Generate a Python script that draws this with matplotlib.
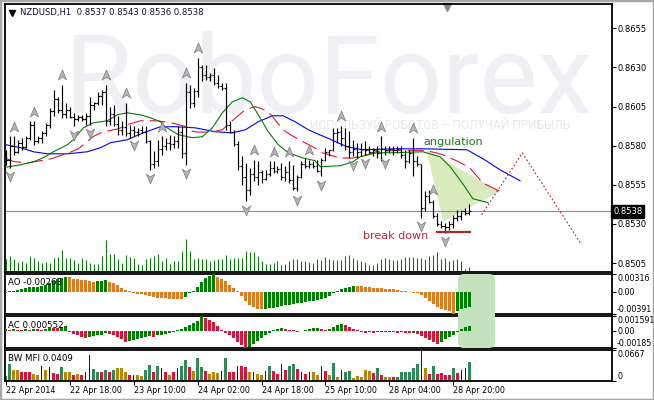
import numpy as np
import matplotlib.pyplot as plt
import matplotlib.transforms as mtransforms
from matplotlib.path import Path
from matplotlib.patches import Polygon, Rectangle, FancyBboxPatch

#OHLC bars (H1), bar index 0 = 22 Apr 2014
highs=[0.85774,0.85859,0.85859,0.85838,0.85849,0.85859,0.85955,0.85955,0.85859,0.85891,
       0.85944,0.86040,0.86157,0.86114,0.86189,0.86072,0.86050,0.86008,0.85997,0.85997,
       0.86008,0.86114,0.86082,0.86146,0.86157,0.86189,0.86050,0.86061,0.85987,0.85955,
       0.86072,0.85933,0.85923,0.85912,0.85923,0.85923,0.85838,0.85763,0.85838,0.85859,
       0.85849,0.85870,0.85859,0.85923,0.85923,0.86199,0.86189,0.86168,0.86359,0.86316,
       0.86316,0.86263,0.86295,0.86252,0.86199,0.86199,0.85955,0.85902,0.85827,0.85731,
       0.85689,0.85657,0.85710,0.85699,0.85646,0.85646,0.85699,0.85699,0.85667,0.85689,
       0.85667,0.85699,0.85678,0.85614,0.85699,0.85721,0.85710,0.85699,0.85710,0.85721,
       0.85785,0.85774,0.85912,0.85915,0.85925,0.85912,0.85891,0.85838,0.85817,0.85817,
       0.85827,0.85795,0.85785,0.85795,0.85859,0.85795,0.85795,0.85795,0.85795,0.85795,
       0.85774,0.85774,0.85849,0.85731,0.85685,0.85508,0.85519,0.85455,0.85370,0.85316,
       0.85306,0.85316,0.85359,0.85391,0.85391,0.85402,0.85430]
lows=[0.85678,0.85657,0.85742,0.85753,0.85774,0.85785,0.85838,0.85806,0.85817,0.85817,
      0.85859,0.85912,0.85987,0.86008,0.85976,0.85976,0.85976,0.85923,0.85955,0.85955,
      0.85933,0.85933,0.86029,0.86061,0.86061,0.85923,0.85933,0.85923,0.85870,0.85870,
      0.85859,0.85849,0.85859,0.85859,0.85880,0.85817,0.85646,0.85657,0.85668,0.85742,
      0.85774,0.85774,0.85785,0.85785,0.85721,0.85678,0.86040,0.86050,0.86114,0.86210,
      0.86221,0.86210,0.86189,0.86168,0.86157,0.85902,0.85880,0.85795,0.85646,0.85550,
      0.85444,0.85487,0.85572,0.85550,0.85561,0.85583,0.85604,0.85625,0.85625,0.85583,
      0.85572,0.85561,0.85519,0.85508,0.85593,0.85657,0.85657,0.85657,0.85635,0.85604,
      0.85699,0.85731,0.85763,0.85817,0.85795,0.85774,0.85721,0.85731,0.85721,0.85731,
      0.85742,0.85753,0.85731,0.85721,0.85699,0.85742,0.85753,0.85742,0.85753,0.85721,
      0.85657,0.85689,0.85604,0.85667,0.85338,0.85380,0.85434,0.85338,0.85285,0.85274,
      0.85242,0.85264,0.85274,0.85316,0.85327,0.85359,0.85360]
closes=[0.8571,0.8580,0.8576,0.8582,0.8579,0.8585,0.8593,0.8583,0.8585,0.8588,
        0.8593,0.8602,0.8610,0.8603,0.8600,0.8603,0.8598,0.8597,0.8598,0.8597,
        0.8599,0.8606,0.8607,0.8612,0.8614,0.8596,0.8600,0.8594,0.8590,0.8592,
        0.8588,0.8590,0.8589,0.8590,0.8589,0.8583,0.8568,0.8570,0.8578,0.8580,
        0.8582,0.8581,0.8583,0.8589,0.8575,0.8614,0.8607,0.8615,0.8630,0.8625,
        0.8624,0.8625,0.8620,0.8618,0.8617,0.8593,0.8589,0.8581,0.8567,0.8560,
        0.8552,0.8562,0.8560,0.8563,0.8559,0.8562,0.8566,0.8564,0.8565,0.8560,
        0.8563,0.8558,0.8553,0.8560,0.8568,0.8567,0.8568,0.8567,0.8564,0.8571,
        0.8576,0.8577,0.8588,0.8589,0.8585,0.8580,0.8576,0.8578,0.8576,0.8578,
        0.8577,0.8576,0.8577,0.8575,0.8578,0.8577,0.8578,0.8577,0.8578,0.8574,
        0.8570,0.8575,0.8570,0.8568,0.8540,0.8548,0.8544,0.8535,0.8530,0.8529,
        0.8528,0.8530,0.8534,0.8535,0.8538,0.8537,0.8538]
first_open=0.8575
volumes=[380,480,380,310,330,280,480,430,330,280,300,280,420,450,660,420,420,360,280,420,
         350,260,240,240,480,960,540,540,380,280,500,440,420,230,200,400,430,480,540,340,
         410,240,340,340,630,990,620,400,410,400,380,340,360,380,400,500,380,430,420,420,
         630,600,600,480,340,240,240,280,320,220,240,340,380,380,340,340,300,260,380,360,
         440,380,360,360,360,480,500,420,360,320,300,200,220,260,380,420,400,360,360,380,
         440,460,440,430,420,380,480,520,600,380,420,340,360,380,320,100,140]

#Fractals (bar indices)
frac_up=[2,7,14,25,30,39,45,48,62,67,71,76,84,94,102,107]
frac_dn=[1,17,21,32,36,45,60,73,79,87,90,95,104,110]

#Alligator lines (bar position, price)
jaw_x=[0,3.7,6.9,10.4,15.4,20.4,23.7,26.2,30.4,34.4,38.7,42.4,47.4,52.4,56.7,60,63.2,66.7,69.4,
       72.4,75.7,77.4,80.4,85.4,89.4,97.9,104.4,115.4,119.4,123.7,128.7]
jaw_y=[0.85806,0.85787,0.85761,0.85748,0.85748,0.85761,0.85787,0.85819,0.85838,0.85882,0.85921,
       0.85921,0.85914,0.85889,0.85882,0.85902,0.85953,0.85991,0.85991,0.85953,0.85902,0.85882,
       0.85850,0.85793,0.85774,0.85780,0.85780,0.85774,0.85717,0.85646,0.85576]
teeth_x=[0,1.9,5.4,8.7,10.4,11.9,16.2,18.2,21.9,24.2,28.2,30.4,33.7,37.9,41.7,44.9,46.7,48.2,51.7,
         54.2,57.9,59.9,62.4,64.2,66.2,69.4,71.2,74.2,76.7,79.4,83.7,86.9,90.4,92.9,97.9,104.9,
         107.9,109.4,113.2,116.2,119.4,123.7]
teeth_y=[0.85720,0.85699,0.85689,0.85704,0.85710,0.85721,0.85759,0.85780,0.85859,0.85887,0.85908,
         0.85934,0.85959,0.85959,0.85944,0.85923,0.85891,0.85887,0.85887,0.85902,0.85986,0.86029,
         0.86050,0.86035,0.86002,0.85902,0.85870,0.85827,0.85795,0.85753,0.85721,0.85721,0.85742,
         0.85763,0.85770,0.85770,0.85753,0.85742,0.85699,0.85657,0.85561,0.85508]
lips_x=[0,3.7,6.9,9.4,11.9,15.4,16.9,19.4,21.9,25.4,27.9,30.4,33.7,36.2,38.7,39.9,43.2,46.7,49.2,
        51.7,54.2,56.7,59.2,61.2,63.2,65.7,68.2,70.7,74.2,77.4,78.7,83.7,86.9,88.7,92.9,96.9,
        104.4,108.7,111.2,114.2,116.9,120.7]
lips_y=[0.85662,0.85678,0.85697,0.85723,0.85761,0.85806,0.85838,0.85914,0.85946,0.85959,0.85997,
        0.86010,0.85997,0.85978,0.85953,0.85921,0.85870,0.85851,0.85857,0.85914,0.86010,0.86080,
        0.86106,0.86080,0.85997,0.85889,0.85806,0.85755,0.85723,0.85704,0.85666,0.85672,0.85697,
        0.85729,0.85755,0.85755,0.85761,0.85729,0.85666,0.85563,0.85461,0.85436]

#Drawn objects
tri_x=[105.3,123.7,109.5]
tri_y=[0.85770,0.85508,0.85317]
fc_x=[119.1,129.3,144.1]
fc_y=[0.85359,0.85753,0.85168]
bd_x=[107.8,116.2]
bd_level=0.85246
last_price=0.8538

#Awesome oscillator
ao=[-0.00012,0.00012,0.00024,0.00041,0.00059,0.00071,0.00082,0.00088,0.00094,0.00112,
    0.00130,0.00159,0.00200,0.00224,0.00247,0.00271,0.00259,0.00236,0.00224,0.00212,
    0.00206,0.00200,0.00177,0.00188,0.00200,0.00212,0.00177,0.00153,0.00118,0.00071,
    0.00035,0.00012,-0.00018,-0.00029,-0.00041,-0.00059,-0.00077,-0.00088,-0.00100,-0.00106,
    -0.00112,-0.00118,-0.00124,-0.00127,-0.00130,-0.00094,-0.00024,0.00024,0.00094,0.00177,
    0.00247,0.00283,0.00316,0.00271,0.00236,0.00188,0.00130,0.00071,0.00012,-0.00071,
    -0.00165,-0.00224,-0.00271,-0.00295,-0.00306,-0.00300,-0.00289,-0.00277,-0.00265,-0.00253,
    -0.00236,-0.00224,-0.00212,-0.00200,-0.00188,-0.00177,-0.00165,-0.00153,-0.00141,-0.00130,
    -0.00106,-0.00071,-0.00024,0.00024,0.00047,0.00071,0.00094,0.00106,0.00103,0.00100,
    0.00094,0.00082,0.00077,0.00071,0.00065,0.00059,0.00056,0.00053,0.00041,0.00024,
    0.00012,-0.00003,-0.00012,-0.00024,-0.00059,-0.00106,-0.00165,-0.00212,-0.00259,-0.00295,
    -0.00318,-0.00342,-0.00391,-0.00330,-0.00306,-0.00283,-0.00263]
#Accelerator oscillator (x1e-4)
ac_e4=[2,1,2,1,1,2,1,2,2,1,2,3,3,3,4,5,-1,-3,-5,-7,
       -8,-7,-6,-5,-4,-2,-3,-5,-7,-9,-12,-11,-10,-9,-8,-7,-6,-6.5,-5,-4,
       -3,-2,-1,1,2,4,6,8,10,15.9,14,12,9,5,1,-2,-4,-8,-12,-15,
       -18.5,-17,-14,-11,-8,-5,-2,1,2,3,2,1,0.5,-1,-0.5,1,2,2.5,3,2,
       1,2,4,6,7,6,4,2,1,-1,-2,-1,-2,-1.5,-1,-1.5,-1.2,-1.5,-2,-1.8,
       -2,-2.2,-2,-3,-6,-8,-10,-12,-14,-12,-9,-7,-4,-1,2,4,5.52]
#Market facilitation index (x1e-4) and colour per bar: g=up/up, b=down/down, u=up/down, r=down/up
mfi_e4=[111,356,245,230,185,200,200,148,126,333,
        245,296,170,156,304,185,185,133,156,126,
        200,556,259,185,185,245,185,245,289,289,
        185,133,126,126,104,245,348,185,333,289,
        185,133,185,289,333,444,304,222,496,296,
        222,148,200,163,222,496,200,200,333,333,
        296,185,185,148,126,222,333,222,148,363,
        245,333,370,259,200,148,185,185,133,319,
        207,133,393,96,230,185,207,74,111,96,
        230,207,170,281,119,96,96,96,96,200,
        200,200,281,356,667,281,156,319,156,170,
        133,120,281,170,230,281,409]
mfi_code=list("ggbbrrrbbu"+"burrgbbrbr"+"uuggrgrgbb"+"brubbggrgu"+"rbruggrbgg"+
              "rbbbugrrur"+"rbubbugrru"+"rggrurubbu"+"rbgbuggbbb"+"bbrgrbbrgg"+
              "ggggubrgrr"+"rrgruug")
tick_bars=[0,16,32,48,64,80,96,112]
tick_labels=['22 Apr 2014','22 Apr 18:00','23 Apr 10:00','24 Apr 02:00',
             '24 Apr 18:00','25 Apr 10:00','28 Apr 04:00','28 Apr 20:00']

W,H=654,400
fs=6.0
fig=plt.figure(figsize=(6.54,4.0),dpi=100)
fig.patch.set_facecolor('white')

def panel(top,bottom,left=4.5,right=611.5):
    return fig.add_axes([left/W,1-bottom/H,(right-left)/W,(bottom-top)/H])

ax=panel(4,272)
ax_ao=panel(274,314)
ax_ac=panel(316,348)
ax_mfi=panel(350,381)

n=np.arange(len(highs))
opens=[first_open]+closes[:-1]

#Main chart
ax.text(0.0997,0.593,'RoboForex',transform=ax.transAxes,fontsize=79,family='Roboto',
        color='#eef0f4',va='baseline',ha='left',zorder=0)
ax.text(0.503,0.548,'ИСПОЛЬЗУЙ РОБОТОВ – ПОЛУЧАЙ ПРИБЫЛЬ',transform=ax.transAxes,fontsize=8.6,
        family='Roboto',color='#e6e9ee',va='center',ha='left',zorder=0)
vtrans=mtransforms.blended_transform_factory(ax.transData,ax.transAxes)
ax.vlines(n,0,np.array(volumes)/(max(volumes)*8.1),transform=vtrans,color='#107a10',lw=0.8,zorder=1)
ax.add_patch(Polygon(np.column_stack([tri_x,tri_y]),closed=True,fc='#d9ebbd',ec='none',zorder=1))
ax.axhline(last_price,color='#8c8c8c',lw=0.8,zorder=1)
ax.plot(jaw_x,jaw_y,color='#0000ff',lw=0.8,zorder=3)
ax.plot(teeth_x,teeth_y,color='#e0163c',lw=0.8,dashes=(14.4,5.4),zorder=3)
ax.plot(lips_x,lips_y,color='#008000',lw=0.8,zorder=3)
ax.vlines(n,lows,highs,color='black',lw=0.85,zorder=4)
ax.hlines(opens,n-0.45,n,color='black',lw=0.85,zorder=4)
ax.hlines(closes,n,n+0.45,color='black',lw=0.85,zorder=4)
ax.plot(fc_x,fc_y,color='#b22222',lw=0.8,dashes=(1.5,2),zorder=3)
ax.plot(bd_x,[bd_level,bd_level],color='#a52a2a',lw=1.6,zorder=4)
ax.text(104.4,0.85822,'angulation',color='#1c7a1c',fontsize=8,va='center',ha='left',zorder=5)
ax.text(89.4,0.85221,'break down',color='#b4283c',fontsize=8,va='center',ha='left',zorder=5)

#Fractal arrows
up_arrow=Path([(0,1),(0.75,-0.8),(0,-0.3),(-0.75,-0.8),(0,1)],
              [Path.MOVETO,Path.LINETO,Path.LINETO,Path.LINETO,Path.CLOSEPOLY])
dn_arrow=Path([(0,-1),(0.75,0.8),(0,0.3),(-0.75,0.8),(0,-1)],
              [Path.MOVETO,Path.LINETO,Path.LINETO,Path.LINETO,Path.CLOSEPOLY])
t_up=mtransforms.offset_copy(ax.transData,fig=fig,y=7,units='points')
t_dn=mtransforms.offset_copy(ax.transData,fig=fig,y=-6,units='points')
ax.plot(frac_up,[highs[i] for i in frac_up],ls='none',marker=up_arrow,ms=8,mfc='#b4b4b4',
        mec='#7c7c7c',mew=0.5,transform=t_up,zorder=5)
ax.plot(frac_dn,[lows[i] for i in frac_dn],ls='none',marker=dn_arrow,ms=8,mfc='#b4b4b4',
        mec='#7c7c7c',mew=0.5,transform=t_dn,zorder=5)

ax.set_ylim(0.84993,0.86705)
ax.yaxis.tick_right()
main_ticks=[0.8505,0.8530,0.8555,0.8580,0.8605,0.8630,0.8655]
ax.set_yticks(main_ticks)
ax.set_yticklabels(['%.4f'%v for v in main_ticks])
ax.text(1.003,last_price,'0.8538',transform=mtransforms.blended_transform_factory(ax.transAxes,ax.transData),
        color='white',fontsize=fs,va='center',ha='left',
        bbox=dict(fc='black',ec='black',pad=1.4),zorder=6,clip_on=False)
ax.plot([(12-4.5)/607],[(272-13)/268],marker='v',ms=4,color='black',transform=ax.transAxes,clip_on=False)
ax.text((20-4.5)/607,(272-13)/268,'NZDUSD,H1  0.8537 0.8543 0.8536 0.8538',transform=ax.transAxes,
        fontsize=6.1,va='center',ha='left',color='#101030')
ax.plot([(447-4.5)/607],[1-3/268],marker='v',ms=6,color='#8a8a8a',transform=ax.transAxes,clip_on=False)

#AO
ao_col=['#008000' if i==0 or ao[i]>ao[i-1] else '#e07b1f' for i in range(len(ao))]
ax_ao.bar(n,ao,width=0.72,color=ao_col,zorder=4)
ax_ao.set_ylim(-0.00391,0.00316)
ax_ao.yaxis.tick_right()
ax_ao.set_yticks([-0.00391,0.0,0.00316])
ax_ao.set_yticklabels(['-0.00391','0.00','0.00316'])
ax_ao.text(0.006,0.78,'AO -0.00263',transform=ax_ao.transAxes,fontsize=6.2,va='center',zorder=5)

#AC
ac=np.array(ac_e4)*1e-4
ac_col=['#008000' if i==0 or ac[i]>ac[i-1] else '#dc143c' for i in range(len(ac))]
ax_ac.bar(n,ac,width=0.72,color=ac_col,zorder=4)
ax_ac.set_ylim(-0.00185,0.001591)
ax_ac.yaxis.tick_right()
ax_ac.set_yticks([-0.00185,0.0,0.001591])
ax_ac.set_yticklabels(['-0.00185','0.00','0.001591'])
ax_ac.text(0.006,0.69,'AC 0.000552',transform=ax_ac.transAxes,fontsize=6.2,va='center',zorder=5)

#highlight box across AO and AC (pixel coords), split so it covers the panel borders
for a,clip in [(ax_ao,(85,128)),(ax_ac,(50,85))]:
    box=FancyBboxPatch((458,52),37,74,boxstyle='round,pad=0,rounding_size=6',fc='#c4e2bd',ec='none',
                       transform=mtransforms.IdentityTransform(),zorder=3)
    a.add_artist(box)
    box.set_clip_path(None)
    box.set_clip_box(mtransforms.Bbox([[450,clip[0]],[500,clip[1]]]))

#BW MFI
mfi=np.array(mfi_e4)*1e-4
cmap={'g':'#2e8b57','b':'#b8860b','u':'#0000ff','r':'#dc143c'}
for i in range(len(mfi)):
    c=mfi_code[i]
    ax_mfi.bar(i,mfi[i],width=0.25 if c=='u' else 0.72,color=cmap[c],zorder=2)
ax_mfi.set_ylim(0,0.0667)
ax_mfi.yaxis.tick_right()
ax_mfi.set_yticks([0,0.0667])
ax_mfi.set_yticklabels(['0','0.0667'])
ax_mfi.text(0.006,0.71,'BW MFI 0.0409',transform=ax_mfi.transAxes,fontsize=6.2,va='center',zorder=5)

for a in [ax,ax_ao,ax_ac,ax_mfi]:
    a.set_xlim(-0.33,151.6)
    a.set_facecolor('none')
    a.tick_params(axis='y',length=3,width=0.8,pad=1.5,labelsize=fs,direction='out')
    a.tick_params(axis='x',bottom=False,labelbottom=False)
    for s in a.spines.values():
        s.set_linewidth(1.3)
        s.set_color('black')
for a in [ax_ao,ax_ac,ax_mfi]:
    a.tick_params(axis='y',labelsize=5.7,pad=1)
    lbl=a.get_yticklabels()
    lbl[0].set_va('bottom')
    lbl[-1].set_va('top')

ax_mfi.set_xticks(tick_bars)
ax_mfi.set_xticklabels(tick_labels,ha='left')
ax_mfi.tick_params(axis='x',bottom=True,labelbottom=True,length=3,width=0.8,pad=0.5,labelsize=5.8)

fig.add_artist(Rectangle((0,0),1,1,transform=fig.transFigure,fill=False,ec='#a8a8a8',lw=2.5))
plt.savefig('out.png',dpi=100)
